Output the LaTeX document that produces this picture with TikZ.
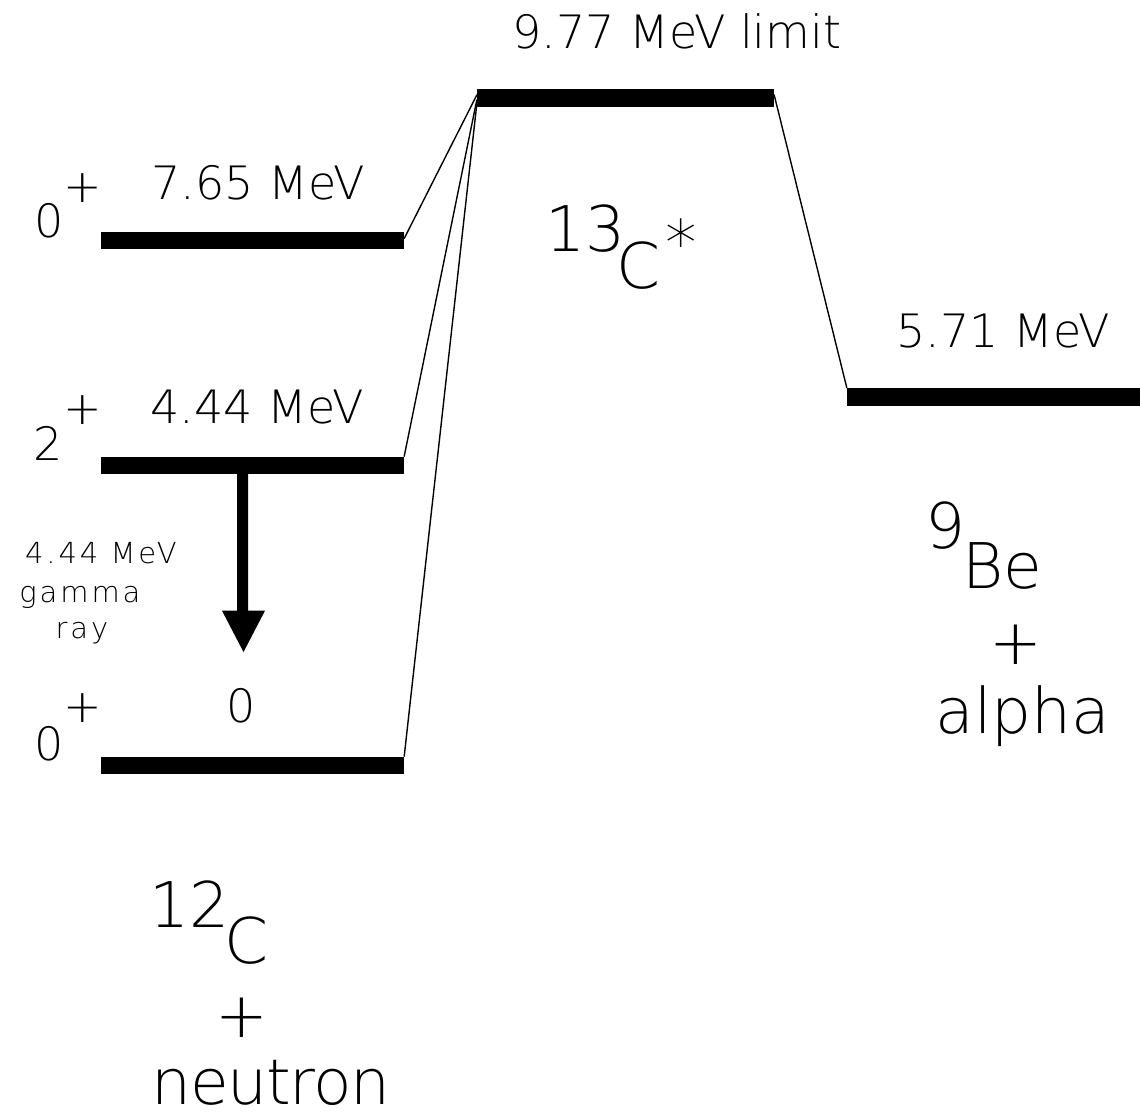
\documentclass[tikz,border=0pt]{standalone}
\usepackage{fontspec}
\IfFontExistsTF{DejaVu Sans ExtraLight}{\setmainfont{DejaVu Sans ExtraLight}}{\setmainfont{DejaVu Sans}}
\usetikzlibrary{calc}
\newcommand\medfont{\fontsize{46}{55}\selectfont}
\newcommand\bigfont{\fontsize{63}{75}\selectfont}
\newcommand\smlfont{\fontsize{29}{34}\selectfont\addfontfeature{LetterSpace=10}}
\tikzset{
  med/.style={font=\medfont, inner sep=0pt, anchor=base},
  big/.style={font=\bigfont, inner sep=0pt, anchor=base},
  sml/.style={font=\smlfont, inner sep=0pt, anchor=base},
  pls/.style={inner sep=0pt, anchor=center},
  lvl/.style={fill=black, draw=none, inner sep=0pt, minimum height=17pt},
  link/.style={line width=1.4pt, line cap=round}
}
\begin{document}
\begin{tikzpicture}[x=1pt,y=-1pt]
\fill[white] (0,0) rectangle (1140,1119);
\useasboundingbox (0,0) rectangle (1140,1119);
% levels
\node[lvl, minimum width=303pt] (g765) at (252.5,240.5) {};
\node[lvl, minimum width=303pt] (g444) at (252.5,465) {};
\node[lvl, minimum width=303pt] (g0)   at (252.5,765) {};
\node[lvl, minimum width=297pt, minimum height=18pt] (top) at (625.5,98) {};
\node[lvl, minimum width=293pt, minimum height=18pt] (e571) at (993.5,397) {};
% connectors
\draw[link] ([yshift=2pt]g765.east) -- ([yshift=3pt]top.west);
\draw[link] (g444.north east) -- ([yshift=-2pt]top.west);
\draw[link] (g0.north east) -- ([yshift=-6pt]top.west);
\draw[link] ([yshift=3pt]top.east) -- (e571.north west);
% gamma arrow
\coordinate (astart) at (g444.south -| 242.5,0);
\coordinate (atip) at (243.5,652);
\fill (astart) ++(-5.5,-1) -- ++(0,138) -- ++(-15,0) -- (atip) -- ($(astart)+(22.5,137)$) -- ++(-17,0) -- ++(0,-138) -- cycle;
% labels
\node[med] (t977) at (677,48) {9.77 MeV limit};
\node[med] (t765) at (258,199) {7.65 MeV};
\node[med] (t444) at (257,423) {4.44 MeV};
\node[med] (t571) at (1003,347) {5.71 MeV};
\node[med] (j1) at (49,237) {0};
\node[med] (j2) at (48,460) {2};
\node[med] (j3) at (49,760) {0};
\node[med,pls] (p1) at (83,188) {+};
\node[med,pls] (p2) at (83,410) {+};
\node[med,pls] (p3) at (83,708) {+};
\node[med] (e0) at (241,722) {0};
\node[sml] (ga) at (101,563) {4.44 MeV};
\node[sml] (gb) at (80,602) {gamma};
\node[sml] (gc) at (82,638) {ray};
% 13C*
\node[big] (c13) at (586,251) {13};
\node[big] (c13c) at (638,288) {C};
\node[big,inner sep=0pt,anchor=north] (star) at (681,219) {*};
% 9Be + alpha
\node[big] (be9) at (946,548) {9};
\node[big] (be) at (1002,588) {Be};
\node[big,pls] (bep) at (1016,645) {+};
\node[big] (alpha) at (1023,733) {alpha};
% 12C + neutron
\node[big] (c12) at (190,927) {12};
\node[big] (c12c) at (246,963) {C};
\node[big,pls] (cp) at (242,1018) {+};
\node[big] (neut) at (271,1104) {\addfontfeature{LetterSpace=-2}neutron};
\end{tikzpicture}
\end{document}
